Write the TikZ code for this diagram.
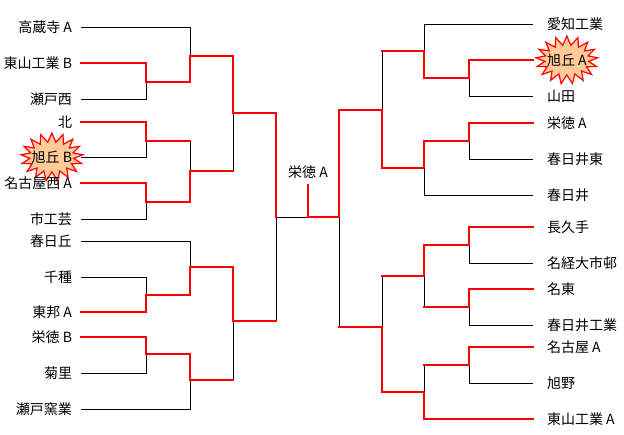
\documentclass[tikz,border=0pt]{standalone}
\usepackage{fontspec}
\newfontfamily\jpfont{Noto Sans CJK JP}
\usepackage{xcolor}
\usepackage{tikz}
\usetikzlibrary{
  shapes.symbols,
  backgrounds,
}
\definecolor{winred}{HTML}{FF0000}
\definecolor{burstbg}{HTML}{FFCC99}

\begin{document}
\begin{tikzpicture}[x=1pt, y=-1pt,
    teamL/.style={anchor=east, inner xsep=1pt, outer xsep=8pt,
                  font=\jpfont\fontsize{14}{14}\selectfont},
    teamR/.style={anchor=west, inner xsep=1pt, outer xsep=13pt,
                  font=\jpfont\fontsize{14}{14}\selectfont},
    lose/.style={draw=black, line width=1pt},
    win/.style={draw=winred, line width=2pt, line cap=rect},
    burst/.style={starburst, starburst points=17, starburst point height=9pt,
                  random starburst=0, draw=winred, fill=burstbg, line width=1.2pt,
                  minimum width=62pt, minimum height=48pt, inner sep=0pt},
  ]
  \useasboundingbox (0,0) rectangle (624,434);

  % teams
  \foreach \n/\y/\t in {1/27/高蔵寺 A, 2/63/東山工業 B, 3/99/瀬戸西, 4/122/北,
      5/157/旭丘 B, 6/183/名古屋西 A, 7/219/市工芸, 8/241/春日丘, 9/277/千種,
      10/312/東邦 A, 11/337/栄徳 B, 12/373/菊里, 13/409/瀬戸窯業}
    \node[teamL] (L\n) at (81,\y) {\t};
  \foreach \n/\y/\t in {1/24/愛知工業, 2/60/旭丘 A, 3/96/山田, 4/123/栄徳 A,
      5/159/春日井東, 6/195/春日井, 7/227/長久手, 8/263/名経大市邨, 9/289/名東,
      10/325/春日井工業, 11/347/名古屋 A, 12/383/旭野, 13/419/東山工業 A}
    \node[teamR] (R\n) at (533,\y) {\t};

  \begin{scope}[on background layer]
    \node[burst] (burstL) at (L5.center) {};
    \node[burst] (burstR) at (R2.center) {};
  \end{scope}

  % junctions
  \foreach \n/\x/\y in {la/146/82, lb/146/141, lc/146/202, ld/146/295, le/146/354,
      lf/190/56, lg/190/171, lh/190/267, li/190/380, lj/233/113, lk/233/321,
      ls/276/217,
      ra/469/78, rb/469/141, rc/469/245, rd/469/307, re/469/365,
      rf/424/51, rg/424/168, rh/424/276, ri/424/392, rj/382/110, rk/382/327,
      rs/339/217, fin/308/217}
    \coordinate (\n) at (\x,\y);

  \node[font=\jpfont\fontsize{14}{14}\selectfont, inner ysep=6pt] (champ) at (308,172) {栄徳 A};

  % bracket
  \foreach \c/\p in {L2/la, L3/la, L4/lb, L5/lb, L6/lc, L7/lc, L9/ld, L10/ld,
      L11/le, L12/le, L1/lf, la/lf, lb/lg, lc/lg, L8/lh, ld/lh, le/li, L13/li,
      lf/lj, lg/lj, lh/lk, li/lk, lj/ls, lk/ls,
      R2/ra, R3/ra, R4/rb, R5/rb, R7/rc, R8/rc, R9/rd, R10/rd, R11/re, R12/re,
      R1/rf, ra/rf, rb/rg, R6/rg, rc/rh, rd/rh, re/ri, R13/ri,
      rf/rj, rg/rj, rh/rk, ri/rk, rj/rs, rk/rs}
    \draw[lose] (\c) -| (\p);
  \draw[lose] (ls) -- (fin);

  % winners
  \foreach \c/\p in {L2/la, L4/lb, L6/lc, L10/ld, L11/le, la/lf, lc/lg, ld/lh,
      le/li, lf/lj, lh/lk, lj/ls,
      R2/ra, R4/rb, R7/rc, R9/rd, R11/re, ra/rf, rb/rg, rc/rh, R13/ri,
      rg/rj, ri/rk, rj/rs}
    \draw[win] (\c) -| (\p);
  \foreach \c/\p in {lb/lg, lg/lj, li/lk, lk/ls, rd/rh, re/ri, rf/rj, rh/rk, rk/rs}
    \draw[win] (\c) -- (\c -| \p);
  \draw[win] (rs) -- (fin) -- (champ);
\end{tikzpicture}
\end{document}
